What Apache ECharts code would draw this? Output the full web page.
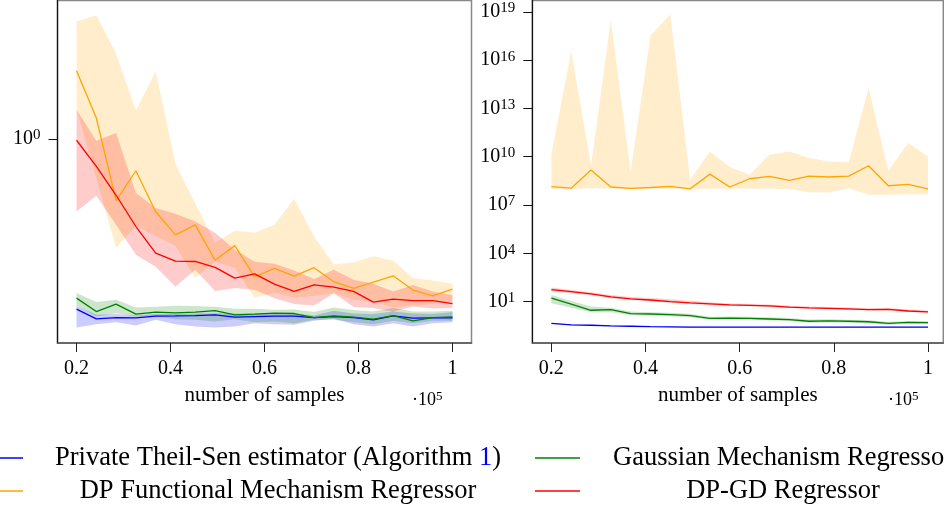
<!DOCTYPE html>
<html>
<head>
<meta charset="utf-8">
<title>number of samples</title>
<script src="https://cdn.jsdelivr.net/npm/echarts@6.0.0/dist/echarts.min.js"></script>
<style>
  html, body { margin: 0; padding: 0; background: #fff; }
  #chart { width: 944px; height: 507px; }
</style>
</head>
<body>
<div id="chart"></div>
<script>
// number of samples, in units of 1e5
const samples = [0.2, 0.2421, 0.2842, 0.3263, 0.3684, 0.4105, 0.4526, 0.4947, 0.5368, 0.5789,
                 0.6211, 0.6632, 0.7053, 0.7474, 0.7895, 0.8316, 0.8737, 0.9158, 0.9579, 1.0]
const xTicks = [0.2, 0.4, 0.6, 0.8, 1]
const leftYTicks = [1]
const rightYTicks = [1e1, 1e4, 1e7, 1e10, 1e13, 1e16, 1e19]

const methods = ['Private Theil-Sen estimator (Algorithm 1)', 'Gaussian Mechanism Regressor',
                 'DP Functional Mechanism Regressor', 'DP-GD Regressor']
const colors = ['#0000ff', '#008000', '#ffa500', '#ff0000']

// left panel
const leftTsMean = [0.2090, 0.1911, 0.1934, 0.1929, 0.1959, 0.1964, 0.1970, 0.1983, 0.1941, 0.1952, 0.1959, 0.1959, 0.1934, 0.1952, 0.1934, 0.1893, 0.1964, 0.1923, 0.1929, 0.1929]
const leftTsHigh = [0.2155, 0.1983, 0.1996, 0.1970, 0.1996, 0.1996, 0.2007, 0.2014, 0.2007, 0.2007, 0.2007, 0.2007, 0.1970, 0.2058, 0.2007, 0.1996, 0.2044, 0.2007, 0.1996, 0.2033]
const leftTsLow = [0.1764, 0.1820, 0.1854, 0.1797, 0.1893, 0.1820, 0.1780, 0.1764, 0.1780, 0.1837, 0.1820, 0.1809, 0.1876, 0.1911, 0.1820, 0.1780, 0.1837, 0.1780, 0.1837, 0.1854]

const leftGaussMean = [0.2313, 0.2044, 0.2188, 0.1996, 0.2033, 0.2020, 0.2033, 0.2063, 0.1983, 0.1996, 0.2014, 0.2007, 0.1934, 0.1965, 0.1941, 0.1906, 0.1970, 0.1876, 0.1934, 0.1947]
const leftGaussHigh = [0.2422, 0.2229, 0.2277, 0.2121, 0.2135, 0.2155, 0.2149, 0.2135, 0.2096, 0.2096, 0.2077, 0.2082, 0.2033, 0.2121, 0.2071, 0.2044, 0.2110, 0.2044, 0.2044, 0.2058]
const leftGaussLow = [0.2161, 0.1952, 0.2014, 0.1952, 0.1952, 0.1906, 0.1893, 0.1864, 0.1906, 0.1854, 0.1864, 0.1837, 0.1893, 0.1893, 0.1854, 0.1820, 0.1876, 0.1837, 0.1876, 0.1876]

const leftFmMean = [1.877, 1.214, 0.567, 0.747, 0.512, 0.414, 0.454, 0.328, 0.375, 0.281, 0.304, 0.283, 0.306, 0.269, 0.253, 0.268, 0.284, 0.249, 0.236, 0.251]
const leftFmHigh = [2.954, 3.122, 2.194, 1.302, 1.864, 0.797, 0.551, 0.385, 0.430, 0.422, 0.454, 0.577, 0.408, 0.316, 0.321, 0.340, 0.326, 0.278, 0.272, 0.264]
const leftFmLow = [1.310, 0.694, 0.367, 0.450, 0.411, 0.374, 0.279, 0.323, 0.306, 0.232, 0.243, 0.232, 0.236, 0.242, 0.228, 0.224, 0.212, 0.216, 0.219, 0.224]

const leftGdMean = [0.989, 0.777, 0.596, 0.447, 0.350, 0.325, 0.324, 0.307, 0.278, 0.289, 0.263, 0.246, 0.261, 0.256, 0.246, 0.223, 0.229, 0.226, 0.226, 0.220]
const leftGdHigh = [1.310, 0.985, 1.057, 0.608, 0.530, 0.503, 0.468, 0.422, 0.361, 0.323, 0.317, 0.298, 0.276, 0.300, 0.274, 0.264, 0.246, 0.261, 0.246, 0.238]
const leftGdLow = [0.513, 0.593, 0.454, 0.345, 0.309, 0.257, 0.300, 0.247, 0.254, 0.250, 0.231, 0.219, 0.216, 0.242, 0.213, 0.211, 0.204, 0.214, 0.210, 0.211]

// right panel
const rightTsMean = [0.447, 0.355, 0.339, 0.309, 0.295, 0.275, 0.269, 0.263, 0.263, 0.26, 0.26, 0.26, 0.26, 0.258, 0.258, 0.258, 0.26, 0.258, 0.258, 0.258]
const rightTsHigh = [0.48, 0.375, 0.36, 0.33, 0.315, 0.293, 0.286, 0.28, 0.28, 0.278, 0.278, 0.277, 0.277, 0.275, 0.276, 0.275, 0.277, 0.275, 0.275, 0.275]
const rightTsLow = [0.42, 0.335, 0.32, 0.292, 0.279, 0.26, 0.254, 0.248, 0.248, 0.246, 0.246, 0.246, 0.245, 0.243, 0.244, 0.243, 0.245, 0.243, 0.243, 0.243]

const rightGaussMean = [16.2, 6.9, 2.9, 3.2, 1.78, 1.70, 1.55, 1.35, 0.91, 0.95, 0.91, 0.83, 0.76, 0.60, 0.63, 0.60, 0.56, 0.45, 0.51, 0.49]
const rightGaussHigh = [25.7, 11, 4.9, 4.1, 2.4, 2.2, 2.0, 1.75, 1.15, 1.2, 1.15, 1.05, 0.95, 0.76, 0.79, 0.75, 0.70, 0.57, 0.63, 0.60]
const rightGaussLow = [7.9, 4.2, 2.2, 2.2, 1.4, 1.35, 1.25, 1.08, 0.74, 0.77, 0.74, 0.68, 0.62, 0.49, 0.51, 0.49, 0.46, 0.37, 0.42, 0.40]

const rightFmMean = [1.38e8, 1.12e8, 1.48e9, 1.32e8, 1.07e8, 1.23e8, 1.45e8, 1.02e8, 8.3e8, 1.32e8, 4.3e8, 6.0e8, 3.4e8, 6.3e8, 5.5e8, 6.3e8, 2.75e9, 1.58e8, 1.9e8, 1.02e8]
const rightFmHigh = [1.32e10, 3.55e16, 2.88e9, 3.0e18, 1.12e9, 3.4e17, 6.9e18, 3.7e8, 2.1e10, 2.3e9, 7.6e8, 1.35e10, 2.1e10, 8.3e9, 5.1e9, 4.5e9, 1.86e14, 1.35e9, 7.1e10, 1.05e10]
const rightFmLow = [9.8e7, 9.3e7, 1.12e8, 1.07e8, 1.02e8, 1.02e8, 1.02e8, 9.8e7, 1.02e8, 1.07e8, 1.02e8, 1.02e8, 1.0e8, 6.3e7, 6.0e7, 1.12e8, 4.4e7, 4.4e7, 4.6e7, 4.6e7]

const rightGdMean = [55.6, 41.7, 30.2, 19.5, 14.8, 12.6, 10.0, 8.3, 7.2, 6.2, 5.9, 5.4, 4.5, 4.1, 3.85, 3.5, 3.2, 3.3, 2.6, 2.3]
const rightGdHigh = [74, 53, 38, 26, 19.5, 17, 14, 11.2, 9.0, 7.6, 7.2, 6.6, 5.6, 5.0, 4.7, 4.3, 3.9, 4.0, 3.2, 2.8]
const rightGdLow = [42, 33, 24.5, 16.2, 12.6, 10.5, 8.5, 7.2, 6.2, 5.4, 5.1, 4.7, 3.95, 3.6, 3.4, 3.05, 2.8, 2.9, 2.3, 2.0]

const serif = '"Liberation Serif", "DejaVu Serif", serif'

function pairs(ys) {
    return samples.map((x, i) => [x, ys[i]])
}

// shaded band: one polygon (upper edge, then lower edge backwards) through api.coord
function band(grid, idx, low, high) {
    return {
        type: 'custom', name: 'band-' + grid + '-' + idx, xAxisIndex: grid, yAxisIndex: grid,
        silent: true, z: 2,
        data: samples.map((x, i) => [x, low[i], high[i]]),
        encode: { x: 0, y: [1, 2] },
        renderItem: function (params, api) {
            if (params.dataIndex !== 0) return
            const pts = []
            for (let i = 0; i < samples.length; i++) pts.push(api.coord([samples[i], high[i]]))
            for (let i = samples.length - 1; i >= 0; i--) pts.push(api.coord([samples[i], low[i]]))
            return {
                type: 'polygon',
                shape: { points: pts },
                style: { fill: colors[idx], opacity: 0.2 }
            }
        }
    }
}

function meanLine(grid, idx, ys) {
    return {
        type: 'line', name: methods[idx], xAxisIndex: grid, yAxisIndex: grid,
        data: pairs(ys), symbol: 'none', z: 3,
        lineStyle: { color: colors[idx], width: 1.3 },
        itemStyle: { color: colors[idx] }
    }
}

function xAxisFor(grid, max) {
    return {
        type: 'value', gridIndex: grid, min: 0.1595, max: max,
        name: 'number of samples', nameLocation: 'middle', nameGap: 42,
        nameTextStyle: { fontFamily: serif, fontSize: 21, color: '#000' },
        axisLine: { onZero: false, lineStyle: { color: '#555', width: 1.5 } },
        axisTick: { customValues: xTicks, inside: false, length: 9, lineStyle: { color: '#222' } },
        axisLabel: {
            customValues: xTicks, margin: 16, fontFamily: serif, fontSize: 20, color: '#000',
            formatter: v => String(Math.round(v * 10) / 10)
        },
        splitLine: { show: false }
    }
}

function yAxisFor(grid, min, max, ticks) {
    return {
        type: 'log', gridIndex: grid, min: min, max: max,
        axisLine: { show: true, onZero: false, lineStyle: { color: '#111', width: 1.2 } },
        axisTick: { show: true, customValues: ticks, inside: false, length: 9, lineStyle: { color: '#111' } },
        axisLabel: {
            customValues: ticks, margin: 17,
            formatter: v => '{b|10}{s|' + Math.round(Math.log10(v)) + '}',
            rich: {
                b: { fontFamily: serif, fontSize: 20, color: '#000', lineHeight: 22 },
                s: { fontFamily: serif, fontSize: 15, color: '#000', lineHeight: 15, verticalAlign: 'top' }
            }
        },
        splitLine: { show: false },
        minorTick: { show: false }
    }
}

function legendText(name) {
    if (name === methods[0]) {
        return '{t|Private Theil-Sen estimator (Algorithm }{l|1}{t|)}'
    }
    return '{t|' + name + '}'
}

function legendFor(names, left, width) {
    return {
        data: names, left: left, top: 443, orient: 'vertical', padding: 0,
        icon: 'rect', itemWidth: 45, itemHeight: 1.5, itemGap: 3,
        selectedMode: false, formatter: legendText,
        textStyle: {
            width: width, fontFamily: serif, fontSize: 26.5, color: '#000', lineHeight: 30,
            rich: {
                t: { align: 'center', fontFamily: serif, fontSize: 26.5, color: '#000', lineHeight: 30 },
                l: { align: 'center', fontFamily: serif, fontSize: 26.5, color: '#0000ff', lineHeight: 30 }
            }
        }
    }
}

const leftSets = [[leftTsMean, leftTsLow, leftTsHigh], [leftGaussMean, leftGaussLow, leftGaussHigh],
                  [leftFmMean, leftFmLow, leftFmHigh], [leftGdMean, leftGdLow, leftGdHigh]]
const rightSets = [[rightTsMean, rightTsLow, rightTsHigh], [rightGaussMean, rightGaussLow, rightGaussHigh],
                   [rightFmMean, rightFmLow, rightFmHigh], [rightGdMean, rightGdLow, rightGdHigh]]

const series = []
;[leftSets, rightSets].forEach((sets, grid) => {
    sets.forEach((s, i) => series.push(band(grid, i, s[1], s[2])))
})
;[leftSets, rightSets].forEach((sets, grid) => {
    sets.forEach((s, i) => series.push(meanLine(grid, i, s[0])))
})

const powerLabel = {
    b: { fontFamily: serif, fontSize: 18, fill: '#000', lineHeight: 20 },
    s: { fontFamily: serif, fontSize: 13, fill: '#000', lineHeight: 12, verticalAlign: 'top' }
}

const chart = echarts.init(document.getElementById('chart'))
chart.setOption({
    animation: false,
    backgroundColor: '#fff',
    textStyle: { fontFamily: serif },
    grid: [
        { left: 57.5, top: 0.5, width: 414, height: 342.5, show: true, borderColor: '#888', borderWidth: 1.5, outerBoundsMode: 'none' },
        { left: 532.3, top: 0.5, width: 411, height: 342.5, show: true, borderColor: '#888', borderWidth: 1.5, outerBoundsMode: 'none' }
    ],
    xAxis: [xAxisFor(0, 1.0404), xAxisFor(1, 1.0325)],
    yAxis: [yAxisFor(0, 0.153, 3.58, leftYTicks), yAxisFor(1, 0.0268, 5.1e19, rightYTicks)],
    legend: [
        legendFor([methods[0], methods[2]], -22, 500),
        legendFor([methods[1], methods[3]], 535, 396)
    ],
    graphic: [
        { type: 'text', left: 412, top: 390, style: { text: '{b|·10}{s|5}', rich: powerLabel } },
        { type: 'text', left: 888, top: 390, style: { text: '{b|·10}{s|5}', rich: powerLabel } }
    ],
    series: series
})
</script>
</body>
</html>
